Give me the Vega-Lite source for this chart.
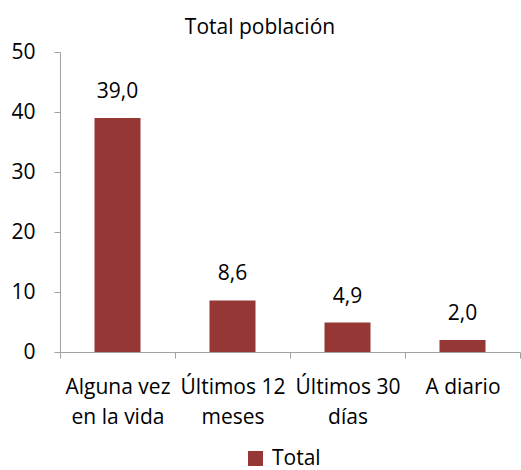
{
  "$schema": "https://vega.github.io/schema/vega-lite/v6.json",
  "width": 460,
  "height": 300,
  "autosize": {"type": "none"},
  "padding": {"left": 60, "top": 52, "right": 1, "bottom": 118},
  "background": "white",
  "title": {"text": "Total población", "anchor": "middle", "dx": -30, "offset": 3, "fontSize": 21, "fontWeight": "normal", "font": "Open Sans", "color": "#000000"},
  "config": {
    "view": {"stroke": null},
    "locale": {"number": {"decimal": ",", "thousands": ".", "grouping": [3], "currency": ["", " €"]}},
    "font": "Open Sans"
  },
  "data": {"values": [
    {"categoria": "Alguna vez|en la vida", "valor": 39.0, "serie": "Total"},
    {"categoria": "Últimos 12|meses", "valor": 8.6, "serie": "Total"},
    {"categoria": "Últimos 30|días", "valor": 4.9, "serie": "Total"},
    {"categoria": "A diario", "valor": 2.0, "serie": "Total"}
  ]},
  "encoding": {
    "x": {"field": "categoria", "type": "nominal", "sort": null,
      "scale": {"paddingInner": 0, "paddingOuter": 0},
      "axis": {"title": null, "labelAngle": 0, "labelExpr": "split(datum.label, '|')", "labelFontSize": 21, "labelLineHeight": 30, "labelColor": "#000000", "labelPadding": 35, "labelFont": "Open Sans",
        "tickBand": "extent", "tickSize": 6, "tickColor": "#a0a0a0", "domainColor": "#a0a0a0", "labelBaseline": "alphabetic"}},
    "y": {"field": "valor", "type": "quantitative",
      "scale": {"domain": [0, 50]},
      "axis": {"title": null, "values": [0, 10, 20, 30, 40, 50], "grid": false, "labelFontSize": 21, "labelColor": "#000000", "labelPadding": 19, "tickSize": 6, "tickColor": "#a0a0a0", "domainColor": "#a0a0a0", "format": "d", "labelFont": "Open Sans"}}
  },
  "layer": [
    {"mark": {"type": "bar", "width": {"band": 0.4}, "color": "#953735"},
      "encoding": {"color": {"field": "serie", "type": "nominal", "scale": {"range": ["#953735"]},
        "legend": {"title": null, "orient": "none", "legendX": 185, "legendY": 396, "symbolType": "square", "symbolSize": 225, "symbolStrokeWidth": 0, "labelFontSize": 21, "labelColor": "#000000", "labelFont": "Open Sans", "labelOffset": 6}}}},
    {"mark": {"type": "text", "baseline": "alphabetic", "dy": -20, "fontSize": 21, "color": "#000000", "font": "Open Sans"},
      "encoding": {"text": {"field": "valor", "type": "quantitative", "format": ".1f"}}}
  ]
}
